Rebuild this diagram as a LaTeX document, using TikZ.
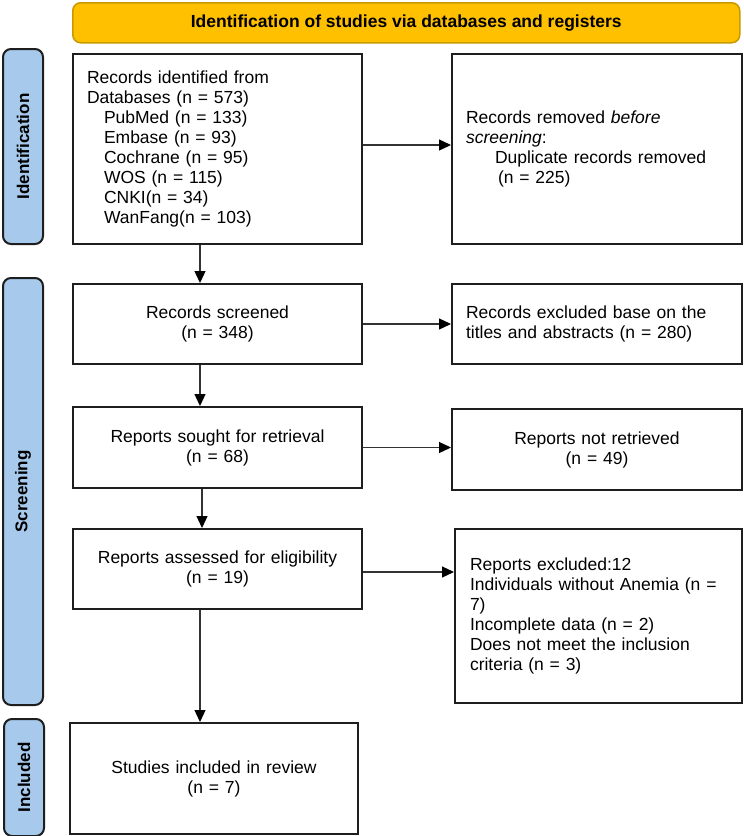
\documentclass[tikz,border=0pt]{standalone}
\usepackage{fontspec}
\setmainfont{Liberation Sans}
\usetikzlibrary{arrows.meta}
\definecolor{bannerfill}{HTML}{FFC000}
\definecolor{bannerdraw}{HTML}{C89A00}
\definecolor{sidefill}{HTML}{A6C9EC}
\definecolor{boxline}{HTML}{1E1E1E}
\definecolor{arrline}{HTML}{333333}
\tikzset{
  box/.style={draw=boxline, line width=2pt, fill=white, inner sep=0pt, inner xsep=14pt,
    font=\fontsize{17.5}{20}\selectfont},
  leftbox/.style={box, align=left},
  midbox/.style={box, align=center},
  sidebar/.style={draw=boxline, line width=2pt, fill=sidefill, rounded corners=8pt,
    minimum width=40pt, inner sep=0pt},
  sidelabel/.style={rotate=90, font=\fontsize{17}{20}\bfseries\selectfont},
  banner/.style={draw=bannerdraw, line width=1.5pt, fill=bannerfill, rounded corners=8pt,
    inner sep=0pt, font=\fontsize{17.5}{20}\bfseries\selectfont},
  arr/.style={draw=arrline, line width=1.3pt,
    -{Triangle[length=12pt,width=11pt,fill=black,color=black]}}
}
\begin{document}
\begin{tikzpicture}[x=1pt,y=-1pt]
\useasboundingbox (0,0) rectangle (744,836);

% banner
\node[banner, minimum width=667pt, minimum height=40pt, anchor=north west] (ban) at (72,2)
  {Identification of studies via databases and registers};

% side bars
\node[sidebar, minimum height=195pt, anchor=north west] (sid) at (2,48) {};
\node[sidelabel] (sidl) at (sid.center) {Identification};
\node[sidebar, minimum height=427pt, anchor=north west] (sscr) at (2,277) {};
\node[sidelabel] (sscrl) at (sscr.center) {Screening};
\node[sidebar, minimum height=117pt, anchor=north west] (sinc) at (3,718) {};
\node[sidelabel] (sincl) at (sinc.center) {Included};

% identification row
\node[leftbox, text width=261pt, minimum width=289pt, minimum height=190pt, anchor=north west] (rid) at (72,53)
  {Records identified from\\
   Databases (n = 573)\\
   \hspace*{17pt}PubMed (n = 133)\\
   \hspace*{17pt}Embase (n = 93)\\
   \hspace*{17pt}Cochrane (n = 95)\\
   \hspace*{17pt}WOS (n = 115)\\
   \hspace*{17pt}CNKI(n = 34)\\
   \hspace*{17pt}WanFang(n = 103)};
\node[leftbox, text width=262pt, minimum width=290pt, minimum height=190pt, anchor=north west] (rrem) at (451,53)
  {Records removed \textit{before}\\
   \textit{screening}:\\
   \hspace*{29pt}Duplicate records removed\\
   \hspace*{32pt}(n = 225)};

% screening rows
\node[midbox, text width=261pt, minimum width=289pt, minimum height=80pt, anchor=north west] (rsc) at (72,283)
  {Records screened\\(n = 348)};
\node[leftbox, text width=262pt, minimum width=290pt, minimum height=80pt, anchor=north west] (rexc) at (451,283)
  {Records excluded base on the\\titles and abstracts (n = 280)};

\node[midbox, text width=261pt, minimum width=289pt, minimum height=81pt, anchor=north west] (rso) at (72,406)
  {Reports sought for retrieval\\(n = 68)};
\node[midbox, text width=262pt, minimum width=290pt, minimum height=81pt, anchor=north west] (rnot) at (451,408)
  {Reports not retrieved\\(n = 49)};

\node[midbox, text width=261pt, minimum width=289pt, minimum height=80pt, anchor=north west] (rass) at (72,528)
  {Reports assessed for eligibility\\(n = 19)};
\node[leftbox, text width=257pt, minimum width=287pt, minimum height=174pt, anchor=north west, inner xsep=15pt] (rexl) at (454,528)
  {Reports excluded:12\\
   Individuals without Anemia (n =\\
   7)\\
   Incomplete data (n = 2)\\
   Does not meet the inclusion\\
   criteria (n = 3)};

% included
\node[midbox, text width=260pt, minimum width=288pt, minimum height=111pt, anchor=north west] (sinc2) at (69,722)
  {Studies included in review\\(n = 7)};

% connectors
\coordinate (cx) at (200,0);
\draw[arr] ([yshift=4pt]rid.east) -- ([yshift=4pt]rid.east -| rrem.west);
\draw[arr] (rsc.east) -- (rsc.east -| rexc.west);
\draw[arr] (rso.east) -- (rso.east -| rnot.west);
\draw[arr] ([yshift=-3pt]rass.east) -- ([yshift=-3pt]rass.east -| rexl.west);

\draw[arr] (rid.south -| cx) -- (rsc.north -| cx);
\draw[arr] (rsc.south -| cx) -- (rso.north -| cx);
\draw[arr] ([xshift=2pt]rso.south -| cx) -- ([xshift=2pt]rass.north -| cx);
\draw[arr] (rass.south -| cx) -- (sinc2.north -| cx);
\end{tikzpicture}
\end{document}
